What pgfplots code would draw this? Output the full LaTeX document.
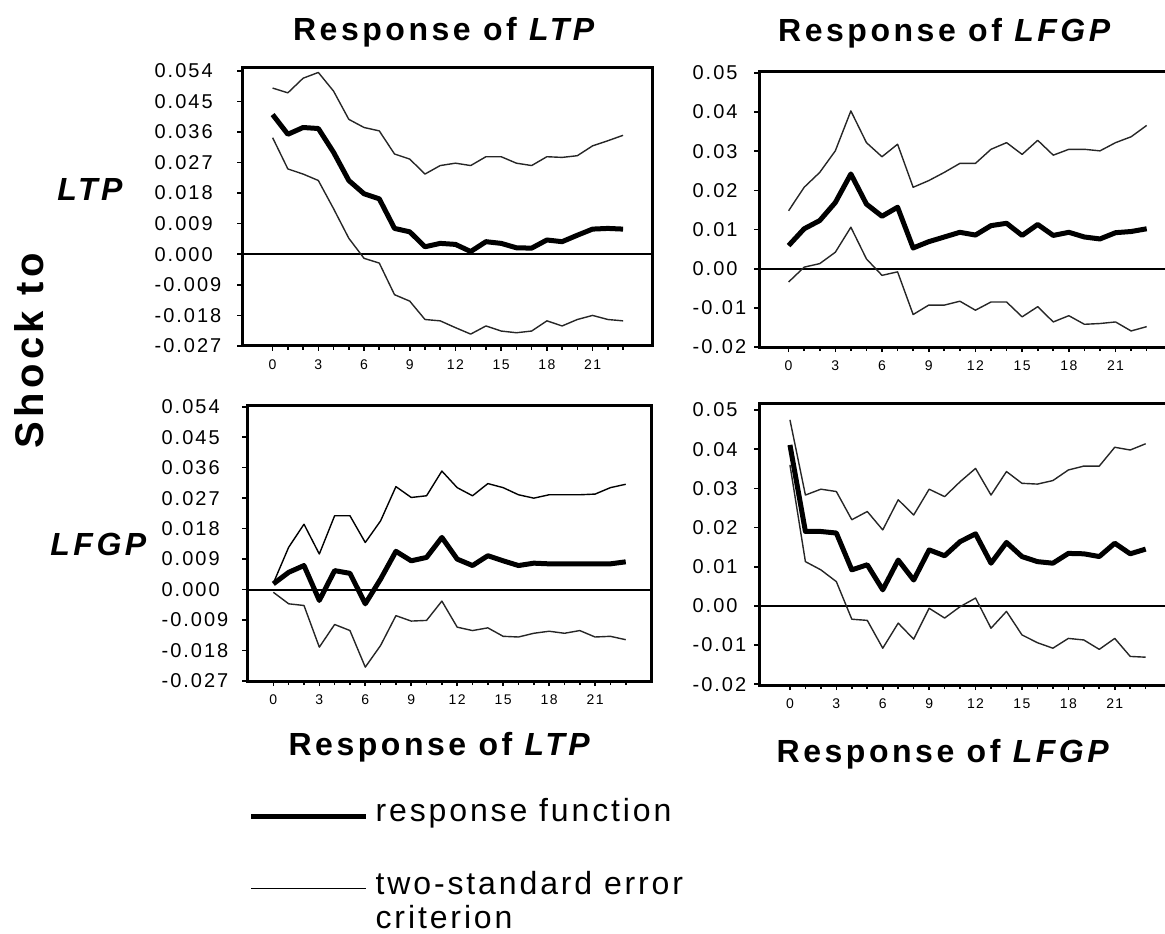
\documentclass[border=0pt]{standalone}
\usepackage{fontspec}
\setmainfont{Liberation Sans}
\usepackage{pgfplots}
\usepackage{pgfplotstable}
\pgfplotsset{compat=1.18}

\newfontfamily\titlefont[LetterSpace=11]{Liberation Sans}
\newfontfamily\tickfont[LetterSpace=10]{Liberation Sans}
\newfontfamily\legfont[LetterSpace=9]{Liberation Sans}

% impulse responses: x, response, upper band, lower band
\pgfplotstableread{
x resp up lo
0 0.0411 0.0489 0.0343
1 0.0353 0.0475 0.0251
2 0.0373 0.0518 0.0236
3 0.0370 0.0535 0.0217
4 0.0300 0.0480 0.0134
5 0.0217 0.0397 0.0047
6 0.0178 0.0373 -0.0012
7 0.0163 0.0363 -0.0026
8 0.0076 0.0295 -0.0119
9 0.0066 0.0280 -0.0138
10 0.0022 0.0236 -0.0192
11 0.0032 0.0261 -0.0196
12 0.0029 0.0268 -0.0216
13 0.0008 0.0261 -0.0235
14 0.0037 0.0287 -0.0211
15 0.0032 0.0287 -0.0226
16 0.0019 0.0268 -0.0231
17 0.0018 0.0261 -0.0226
18 0.0042 0.0287 -0.0196
19 0.0037 0.0285 -0.0211
20 0.0056 0.0290 -0.0192
21 0.0074 0.0319 -0.0180
22 0.0076 0.0334 -0.0192
23 0.0074 0.0350 -0.0196
}\ltpltp

\pgfplotstableread{
x resp up lo
0 0.0059 0.0148 -0.0034
1 0.0102 0.0208 0.0004
2 0.0123 0.0246 0.0013
3 0.0169 0.0301 0.0042
4 0.0242 0.0403 0.0106
5 0.0165 0.0322 0.0025
6 0.0134 0.0286 -0.0017
7 0.0157 0.0318 -0.0008
8 0.0053 0.0208 -0.0117
9 0.0069 0.0225 -0.0093
10 0.0081 0.0246 -0.0093
11 0.0093 0.0269 -0.0083
12 0.0086 0.0269 -0.0106
13 0.0110 0.0305 -0.0085
14 0.0116 0.0322 -0.0085
15 0.0085 0.0292 -0.0123
16 0.0113 0.0328 -0.0097
17 0.0085 0.0290 -0.0136
18 0.0093 0.0305 -0.0120
19 0.0081 0.0305 -0.0142
20 0.0076 0.0301 -0.0140
21 0.0092 0.0322 -0.0136
22 0.0095 0.0337 -0.0159
23 0.0102 0.0366 -0.0148
}\lfgpltp

\pgfplotstableread{
x resp up lo
0 0.0017 0.0019 -0.0008
1 0.0051 0.0125 -0.0042
2 0.0071 0.0193 -0.0047
3 -0.0032 0.0105 -0.0170
4 0.0056 0.0218 -0.0103
5 0.0048 0.0218 -0.0121
6 -0.0042 0.0139 -0.0229
7 0.0031 0.0203 -0.0165
8 0.0113 0.0304 -0.0077
9 0.0085 0.0272 -0.0093
10 0.0095 0.0277 -0.0091
11 0.0154 0.0350 -0.0034
12 0.0090 0.0301 -0.0111
13 0.0071 0.0277 -0.0121
14 0.0100 0.0313 -0.0113
15 0.0085 0.0301 -0.0138
16 0.0071 0.0280 -0.0140
17 0.0078 0.0270 -0.0129
18 0.0076 0.0280 -0.0123
19 0.0076 0.0280 -0.0129
20 0.0076 0.0280 -0.0121
21 0.0076 0.0282 -0.0140
22 0.0076 0.0301 -0.0138
23 0.0082 0.0311 -0.0148
}\ltplfgp

\pgfplotstableread{
x resp up lo
0 0.0411 0.0475 0.0360
1 0.0190 0.0283 0.0113
2 0.0190 0.0298 0.0092
3 0.0186 0.0292 0.0062
4 0.0092 0.0220 -0.0034
5 0.0105 0.0241 -0.0037
6 0.0041 0.0194 -0.0108
7 0.0117 0.0271 -0.0044
8 0.0066 0.0232 -0.0085
9 0.0143 0.0298 -0.0006
10 0.0128 0.0279 -0.0031
11 0.0164 0.0317 -0.0002
12 0.0184 0.0351 0.0020
13 0.0109 0.0283 -0.0057
14 0.0162 0.0343 -0.0014
15 0.0126 0.0313 -0.0074
16 0.0113 0.0311 -0.0094
17 0.0109 0.0320 -0.0108
18 0.0134 0.0347 -0.0083
19 0.0133 0.0357 -0.0087
20 0.0126 0.0357 -0.0111
21 0.0160 0.0405 -0.0083
22 0.0133 0.0398 -0.0129
23 0.0145 0.0414 -0.0131
}\lfgplfgp

\pgfplotsset{
  irf/.style={
    scale only axis,
    anchor=north west,
    axis line style={line width=1.5pt},
    tick align=outside,
    xtick pos=bottom, ytick pos=left,
    scaled y ticks=false,
    xtick={0,3,...,21},
    minor xtick={0,1,...,23},
    major tick length=2.5pt, minor tick length=2pt,
    every tick/.style={black, line width=0.8pt},
    /pgf/number format/assume math mode=true,
    xticklabel style={font=\tickfont\fontsize{7}{8}\selectfont, yshift=-1pt},
    yticklabel style={font=\tickfont\fontsize{10}{11}\selectfont,
      align=left, inner sep=0pt, anchor=east},
  },
  rf/.style={black, line width=2.5pt, line join=round},
  se/.style={black!85, line width=0.7pt, line join=round},
  zl/.style={black, line width=1pt},
  % legend line of the two-line entry sits beside its first line
  selegimg/.style={legend image code/.code={\draw[##1] (0pt,20pt) -- (57.5pt,20pt);}},
  ltpaxis/.style={ymin=-0.027,
    ytick={-0.027,-0.018,-0.009,0,0.009,0.018,0.027,0.036,0.045,0.054},
    yticklabels={-0.027,-0.018,-0.009,0.000,0.009,0.018,0.027,0.036,0.045,0.054}},
  lfgpaxis/.style={
    ytick={-0.02,-0.01,0,0.01,0.02,0.03,0.04,0.05},
    yticklabels={-0.02,-0.01,0.00,0.01,0.02,0.03,0.04,0.05}},
}

\begin{document}
\begin{tikzpicture}
\path[use as bounding box] (0,0) rectangle (582.5pt,-466.5pt);

% top left
\begin{axis}[irf, ltpaxis, at={(121pt,-33.5pt)}, width=205pt, height=139.5pt,
  xmin=-2.01, xmax=24.9, ymax=0.0551,
  yticklabel style={text width=41pt}]
\addplot[zl] coordinates {(-3,0) (26,0)};
\addplot[se] table[x=x, y=up] {\ltpltp};
\addplot[se] table[x=x, y=lo] {\ltpltp};
\addplot[rf] table[x=x, y=resp] {\ltpltp};
\end{axis}

% top right
\begin{axis}[irf, lfgpaxis, at={(379.5pt,-35.5pt)}, width=209.4pt, height=138pt,
  xmin=-1.9, xmax=25, ymin=-0.02, ymax=0.0505,
  yticklabel style={text width=30.5pt}]
\addplot[zl] coordinates {(-3,0) (26,0)};
\addplot[se] table[x=x, y=up] {\lfgpltp};
\addplot[se] table[x=x, y=lo] {\lfgpltp};
\addplot[rf] table[x=x, y=resp] {\lfgpltp};
\end{axis}

% bottom left, carries the legend
\begin{axis}[irf, ltpaxis, at={(123.5pt,-202.5pt)}, width=202pt, height=138pt,
  xmin=-1.72, xmax=24.65, ymax=0.0545,
  yticklabel style={text width=40pt},
  legend style={at={(axis description cs:0.003,-0.409)}, anchor=north west,
    draw=none, fill=none, inner sep=0pt, row sep=19.5pt, column sep=1.5pt,
    font=\legfont\fontsize{16}{17}\selectfont,
    cells={anchor=base west, align=left}},
  legend image code/.code={\draw[#1] (0pt,2.5pt) -- (57.5pt,2.5pt);}]
\addplot[zl, forget plot] coordinates {(-3,0) (26,0)};
\addplot[rf] table[x=x, y=resp] {\ltplfgp};
\addlegendentry{response function}
\addplot[se, black, selegimg] table[x=x, y=up] {\ltplfgp};
\addlegendentry{two-standard error\\criterion}
\addplot[se, forget plot] table[x=x, y=lo] {\ltplfgp};
\end{axis}

% bottom right
\begin{axis}[irf, lfgpaxis, at={(379.5pt,-201.5pt)}, width=208.8pt, height=141pt,
  xmin=-2, xmax=25, ymin=-0.0202, ymax=0.0518,
  yticklabel style={text width=30.5pt}]
\addplot[zl] coordinates {(-3,0) (26,0)};
\addplot[se] table[x=x, y=up] {\lfgplfgp};
\addplot[se] table[x=x, y=lo] {\lfgplfgp};
\addplot[rf] table[x=x, y=resp] {\lfgplfgp};
\end{axis}

% titles and row labels
\begin{scope}[every node/.style={inner sep=0pt}]
\node[anchor=base] at (222.75pt,-20pt)
  {\titlefont\bfseries\fontsize{16}{18}\selectfont Response of \textit{LTP}};
\node[anchor=base] at (473pt,-20.5pt)
  {\titlefont\bfseries\fontsize{16}{18}\selectfont Response of \textit{LFGP}};
\node[anchor=base] at (220.5pt,-377.5pt)
  {\titlefont\bfseries\fontsize{16}{18}\selectfont Response of \textit{LTP}};
\node[anchor=base] at (472.25pt,-381pt)
  {\titlefont\bfseries\fontsize{16}{18}\selectfont Response of \textit{LFGP}};
\node[anchor=base, rotate=90] at (21.5pt,-175.5pt)
  {\titlefont\bfseries\fontsize{20}{22}\selectfont Shock to};
\node[anchor=base west] at (28.5pt,-100pt)
  {\titlefont\bfseries\itshape\fontsize{16}{18}\selectfont LTP};
\node[anchor=base west] at (25pt,-277.5pt)
  {\titlefont\bfseries\itshape\fontsize{16}{18}\selectfont LFGP};
\end{scope}
\end{tikzpicture}
\end{document}
